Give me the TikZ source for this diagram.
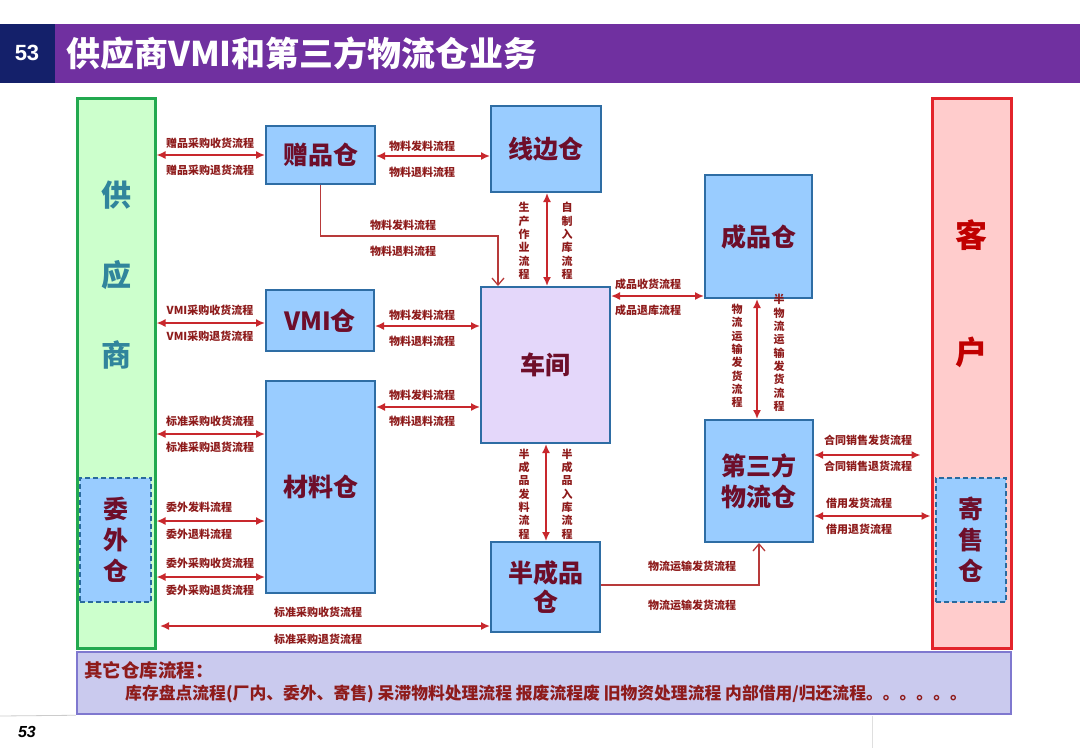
\documentclass[tikz,border=0pt]{standalone}
\usepackage{fontspec}
\setmainfont{Noto Sans CJK SC}
\newfontfamily\latinf{Liberation Sans}
\usetikzlibrary{arrows.meta,calc}
\definecolor{hdrpurple}{HTML}{7030A0}
\definecolor{hdrnavy}{HTML}{14206A}
\definecolor{lblred}{HTML}{8E1B1B}
\definecolor{nodetxt}{HTML}{6E0E2A}
\definecolor{arrred}{HTML}{C8282D}
\definecolor{elbred}{HTML}{B83A3A}
\definecolor{boxfill}{HTML}{99CCFF}
\definecolor{boxline}{HTML}{2E6DA4}
\definecolor{cjfill}{HTML}{E4D7FA}
\definecolor{supfill}{HTML}{CCFFCC}
\definecolor{supline}{HTML}{22A94F}
\definecolor{suptxt}{HTML}{31859C}
\definecolor{cusfill}{HTML}{FFCCCC}
\definecolor{cusline}{HTML}{E3242B}
\definecolor{custxt}{HTML}{C00000}
\definecolor{othfill}{HTML}{CACAEE}
\definecolor{othline}{HTML}{7F78CF}
\definecolor{dashline}{HTML}{2A6A9E}
\tikzset{
  wbox/.style={draw=boxline, line width=2pt, fill=boxfill, text=nodetxt, inner sep=0pt, align=center,
    font=\bfseries\fontsize{25}{31}\selectfont},
  dbox/.style={draw=dashline, line width=1.5pt, dash pattern=on 5pt off 3pt, fill=boxfill, text=nodetxt, inner sep=0pt, align=center,
    font=\bfseries\fontsize{25}{31}\selectfont},
  lbl/.style={text=lblred, inner sep=0pt, font=\bfseries\fontsize{11}{12}\selectfont},
  vlbl/.style={text=lblred, inner sep=0pt, align=center, font=\bfseries\fontsize{11}{13.3}\selectfont},
  arr/.style={draw=arrred, line width=1.6pt, {Latex[length=9pt,width=8pt]}-{Latex[length=9pt,width=8pt]}},
  elb/.style={draw=elbred, line width=1.3pt, -{Straight Barb[length=7pt,width=12pt]}},
}
\begin{document}
\begin{tikzpicture}[x=1pt,y=-1pt]
\useasboundingbox (0,0) rectangle (1080,748);
\fill[white] (0,0) rectangle (1080,748);
% header
\fill[hdrpurple] (55,24) rectangle (1080,83);
\fill[hdrnavy] (0,24) rectangle (55,83);
\node[text=white, font=\latinf\bfseries\fontsize{22}{24}\selectfont] (hnum) at (27,53) {53};
\node[anchor=west, text=white, inner sep=0pt, font=\bfseries\fontsize{34}{36}\selectfont] (title) at (66,53) {供应商VMI和第三方物流仓业务};
% supplier / customer columns
\node[draw=supline, line width=3pt, fill=supfill, minimum width=78pt, minimum height=550pt, inner sep=0pt] (sup) at (116,373) {};
\foreach \c/\yy/\n in {供/195/s1, 应/275/s2, 商/355/s3}
  \node[text=suptxt, font=\bfseries\fontsize{30}{32}\selectfont] (\n) at (116,\yy) {\c};
\node[dbox, minimum width=71pt, minimum height=124pt] (ww) at (115.5,540) {委\\外\\仓};
\node[draw=cusline, line width=3pt, fill=cusfill, minimum width=79pt, minimum height=550pt, inner sep=0pt] (cus) at (971.5,373) {};
\foreach \c/\yy/\n in {客/235/c1, 户/352/c2}
  \node[text=custxt, font=\bfseries\fontsize{32}{34}\selectfont] (\n) at (971.5,\yy) {\c};
\node[dbox, minimum width=70pt, minimum height=124pt] (js) at (971,540) {寄\\售\\仓};
% warehouses
\node[wbox, minimum width=109pt, minimum height=58pt] (zp) at (320.5,155) {赠品仓};
\node[wbox, minimum width=110pt, minimum height=86pt] (xb) at (546,149) {线边仓};
\node[wbox, minimum width=107pt, minimum height=123pt] (cp) at (758.5,236.5) {成品仓};
\node[wbox, minimum width=108pt, minimum height=61pt] (vmi) at (320,320.5) {VMI仓};
\node[wbox, fill=cjfill, minimum width=129pt, minimum height=156pt] (cj) at (545.5,365) {车间};
\node[wbox, minimum width=109pt, minimum height=212pt] (cl) at (320.5,487) {材料仓};
\node[wbox, minimum width=108pt, minimum height=122pt] (dsf) at (759,481) {第三方\\物流仓};
\node[wbox, minimum width=109pt, minimum height=90pt, font=\bfseries\fontsize{25}{29}\selectfont] (bcp) at (545.5,587) {半成品\\仓};
% other processes box
\node[draw=othline, line width=2.5pt, fill=othfill, minimum width=934pt, minimum height=62pt, inner sep=0pt] (oth) at (544,683) {};
\node[anchor=west, text=lblred, inner sep=0pt, font=\bfseries\fontsize{18.5}{20}\selectfont] (oth1) at (84,670) {其它仓库流程：};
\node[anchor=west, text=lblred, inner sep=0pt, font=\bfseries\fontsize{16.8}{18}\selectfont] (oth2) at (125,694) {库存盘点流程(厂内、委外、寄售) 呆滞物料处理流程 报废流程废 旧物资处理流程 内部借用/归还流程。。。。。。};
% footer
\draw[gray!40, line width=0.8pt] (0,716) -- (oth.south west);
\coordinate (fv) at (872,716);
\draw[gray!25, line width=0.8pt] (fv) -- (872,748);
\node[font=\latinf\bfseries\itshape\fontsize{16}{18}\selectfont] (fnum) at (27,732) {53};
% supplier arrows
\draw[arr] (sup.east |- 0,155) -- (zp.west |- 0,155);
\node[lbl] (a1) at (210,143) {赠品采购收货流程};
\node[lbl] (a2) at (210,170) {赠品采购退货流程};
\draw[arr] (sup.east |- 0,323) -- (vmi.west |- 0,323);
\node[lbl] (a3) at (210,310) {VMI采购收货流程};
\node[lbl] (a4) at (210,336) {VMI采购退货流程};
\draw[arr] (sup.east |- 0,434) -- (cl.west |- 0,434);
\node[lbl] (a5) at (210,421) {标准采购收货流程};
\node[lbl] (a6) at (210,447) {标准采购退货流程};
\draw[arr] (sup.east |- 0,521) -- (cl.west |- 0,521);
\node[lbl, anchor=west] (a7) at (166,507) {委外发料流程};
\node[lbl, anchor=west] (a8) at (166,534) {委外退料流程};
\draw[arr] (sup.east |- 0,577) -- (cl.west |- 0,577);
\node[lbl, anchor=west] (a9) at (166,563) {委外采购收货流程};
\node[lbl, anchor=west] (a10) at (166,590) {委外采购退货流程};
\coordinate (b1) at (160,626);
\draw[arr] (b1) -- (bcp.west |- b1);
\node[lbl] (a11) at (318,612) {标准采购收货流程};
\node[lbl] (a12) at (318,639) {标准采购退货流程};
% centre arrows
\draw[arr] (zp.east |- 0,156) -- (xb.west |- 0,156);
\node[lbl] (b2) at (422,146) {物料发料流程};
\node[lbl] (b3) at (422,172) {物料退料流程};
\coordinate (e1) at (498,236);
\draw[elb] (zp.south) |- (e1) -- (e1 |- cj.north);
\node[lbl] (b4) at (403,225) {物料发料流程};
\node[lbl] (b5) at (403,251) {物料退料流程};
\draw[arr] (xb.south -| 547,0) -- (cj.north -| 547,0);
\node[vlbl] (v1) at (524,241) {生\\产\\作\\业\\流\\程};
\node[vlbl] (v2) at (567,241) {自\\制\\入\\库\\流\\程};
\draw[arr] (vmi.east |- 0,326) -- (cj.west |- 0,326);
\node[lbl] (b6) at (422,315) {物料发料流程};
\node[lbl] (b7) at (422,341) {物料退料流程};
\draw[arr] (cl.east |- 0,407) -- (cj.west |- 0,407);
\node[lbl] (b8) at (422,395) {物料发料流程};
\node[lbl] (b9) at (422,421) {物料退料流程};
\draw[arr] (cj.east |- 0,296) -- (cp.west |- 0,296);
\node[lbl] (b10) at (648,284) {成品收货流程};
\node[lbl] (b11) at (648,310) {成品退库流程};
\draw[arr] (cj.south -| 546,0) -- (bcp.north -| 546,0);
\node[vlbl] (v3) at (524,494) {半\\成\\品\\发\\料\\流\\程};
\node[vlbl] (v4) at (567,494) {半\\成\\品\\入\\库\\流\\程};
% right side
\draw[arr] (cp.south -| 757,0) -- (dsf.north -| 757,0);
\node[vlbl] (v5) at (737,356) {物\\流\\运\\输\\发\\货\\流\\程};
\node[vlbl] (v6) at (779,353) {半\\物\\流\\运\\输\\发\\货\\流\\程};
\draw[elb] (bcp.east |- 0,585) -| (dsf.south);
\node[lbl] (b12) at (692,566) {物流运输发货流程};
\node[lbl] (b13) at (692,605) {物流运输发货流程};
\draw[arr] (dsf.east |- 0,455) -- ($(cus.west |- 0,455)+(-10,0)$);
\node[lbl] (b14) at (868,440) {合同销售发货流程};
\node[lbl] (b15) at (868,466) {合同销售退货流程};
\draw[arr] (dsf.east |- 0,516) -- (cus.west |- 0,516);
\node[lbl, anchor=west] (b16) at (826,503) {借用发货流程};
\node[lbl, anchor=west] (b17) at (826,529) {借用退货流程};
\end{tikzpicture}
\end{document}
